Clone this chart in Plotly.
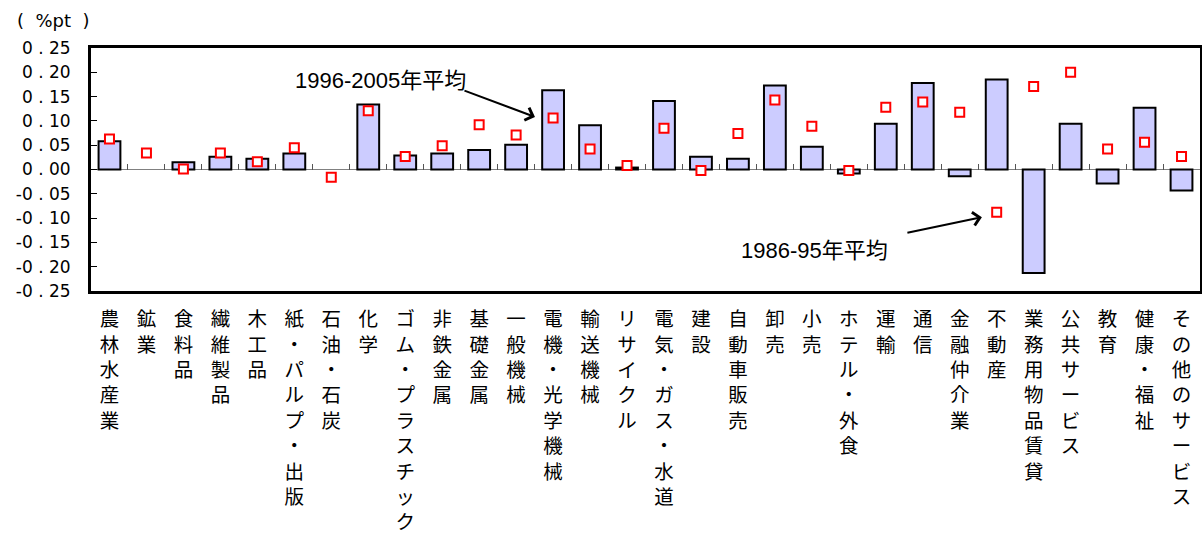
import plotly.graph_objects as go

# Industry categories (stacked vertically in the tick labels)
categories = [
    "農林水産業", "鉱業", "食料品", "繊維製品", "木工品", "紙・パルプ・出版",
    "石油・石炭", "化学", "ゴム・プラスチック", "非鉄金属", "基礎金属", "一般機械",
    "電機・光学機械", "輸送機械", "リサイクル", "電気・ガス・水道", "建設", "自動車販売",
    "卸売", "小売", "ホテル・外食", "運輸", "通信", "金融仲介業", "不動産",
    "業務用物品賃貸", "公共サービス", "教育", "健康・福祉", "その他のサービス",
]

# 1996-2005 average contribution (%pt) -> bars
avg_1996_2005 = [
    0.058, None, 0.015, 0.026, 0.022, 0.033, None, 0.134, 0.029, 0.033,
    0.040, 0.051, 0.163, 0.091, 0.004, 0.141, 0.026, 0.022, 0.173, 0.047,
    -0.008, 0.094, 0.178, -0.014, 0.185, -0.213, 0.094, -0.029, 0.127, -0.043,
]

# 1986-95 average contribution (%pt) -> square markers
avg_1986_1995 = [
    0.063, 0.034, 0.001, 0.034, 0.016, 0.045, -0.016, 0.121, 0.027, 0.049,
    0.092, 0.071, 0.106, 0.042, 0.008, 0.085, -0.002, 0.074, 0.143, 0.089,
    -0.002, 0.128, 0.139, 0.118, -0.088, 0.171, 0.200, 0.042, 0.056, 0.027,
]

y_ticks = [0.25, 0.20, 0.15, 0.10, 0.05, 0.00, -0.05, -0.10, -0.15, -0.20, -0.25]
y_tick_text = ["0 . 25", "0 . 20", "0 . 15", "0 . 10", "0 . 05", "0 . 00",
               "-0 . 05", "-0 . 10", "-0 . 15", "-0 . 20", "-0 . 25"]

vertical_labels = ["<br>".join(list(c)) for c in categories]

CJK = "Noto Sans CJK JP"
LAT = "DejaVu Sans"

fig = go.Figure()

fig.add_trace(go.Bar(
    x=categories, y=avg_1996_2005, width=0.59,
    marker=dict(color="#CCCCFF", line=dict(color="black", width=2)),
    name="1996-2005年平均", showlegend=False,
))

fig.add_trace(go.Scatter(
    x=categories, y=avg_1986_1995, mode="markers", xaxis="x2",
    marker=dict(symbol="square", size=9, color="white",
                line=dict(color="#FF0000", width=2)),
    name="1986-95年平均", showlegend=False,
))

fig.update_layout(
    width=1202, height=539,
    margin=dict(l=91, r=2, t=48, b=248, autoexpand=False),
    paper_bgcolor="white", plot_bgcolor="white",
    xaxis=dict(
        type="category", categoryorder="array", categoryarray=categories,
        range=[-0.5, 29.5], tickmode="array", tickvals=categories,
        ticktext=vertical_labels, tickangle=0, ticks="",
        ticklabelstandoff=9, automargin=False,
        tickfont=dict(family=f"Liberation Sans, {CJK}", size=19.5, color="black"),
        showline=True, linecolor="black", linewidth=3, mirror=True,
        showgrid=False, zeroline=False,
    ),
    xaxis2=dict(
        type="category", categoryorder="array", categoryarray=categories,
        range=[-0.5, 29.5], overlaying="x", anchor="free", position=0.5,
        side="bottom", tickson="boundaries", ticks="inside", ticklen=6,
        tickcolor="#555555", tickwidth=1, showticklabels=False,
        showline=False, showgrid=False, zeroline=False, automargin=False,
    ),
    yaxis=dict(
        range=[-0.25, 0.25], tickmode="array", tickvals=y_ticks,
        ticktext=y_tick_text, ticks="inside", ticklen=6, tickcolor="black",
        tickwidth=1, ticklabelstandoff=14, automargin=False,
        tickfont=dict(family=LAT, size=17, color="black"),
        showline=True, linecolor="black", linewidth=3, mirror=True,
        showgrid=False, zeroline=True, zerolinecolor="#808080", zerolinewidth=1,
    ),
)

ann_font = dict(family=f"Liberation Sans, {CJK}", size=22, color="black")

fig.add_annotation(x=-0.0685, y=1.115, xref="paper", yref="paper",
                   text="(  %pt  )", showarrow=False, xanchor="left",
                   yanchor="middle", font=dict(family=LAT, size=18, color="black"))

# Labels for the two series with pointing arrows
fig.add_annotation(x=7.34, y=0.184, xref="x", yref="y", text="1996-2005年平均",
                   showarrow=False, font=ann_font)
fig.add_annotation(x=11.51, y=0.108, xref="x", yref="y", text="",
                   showarrow=True, ax=-72, ay=-27, arrowhead=4, arrowsize=1.3,
                   arrowwidth=2, arrowcolor="black", standoff=0)

fig.add_annotation(x=19.08, y=-0.166, xref="x", yref="y", text="1986-95年平均",
                   showarrow=False, font=ann_font)
fig.add_annotation(x=23.60, y=-0.098, xref="x", yref="y", text="",
                   showarrow=True, ax=-76, ay=16, arrowhead=4, arrowsize=1.3,
                   arrowwidth=2, arrowcolor="black", standoff=0)

fig.write_html("out.html")
